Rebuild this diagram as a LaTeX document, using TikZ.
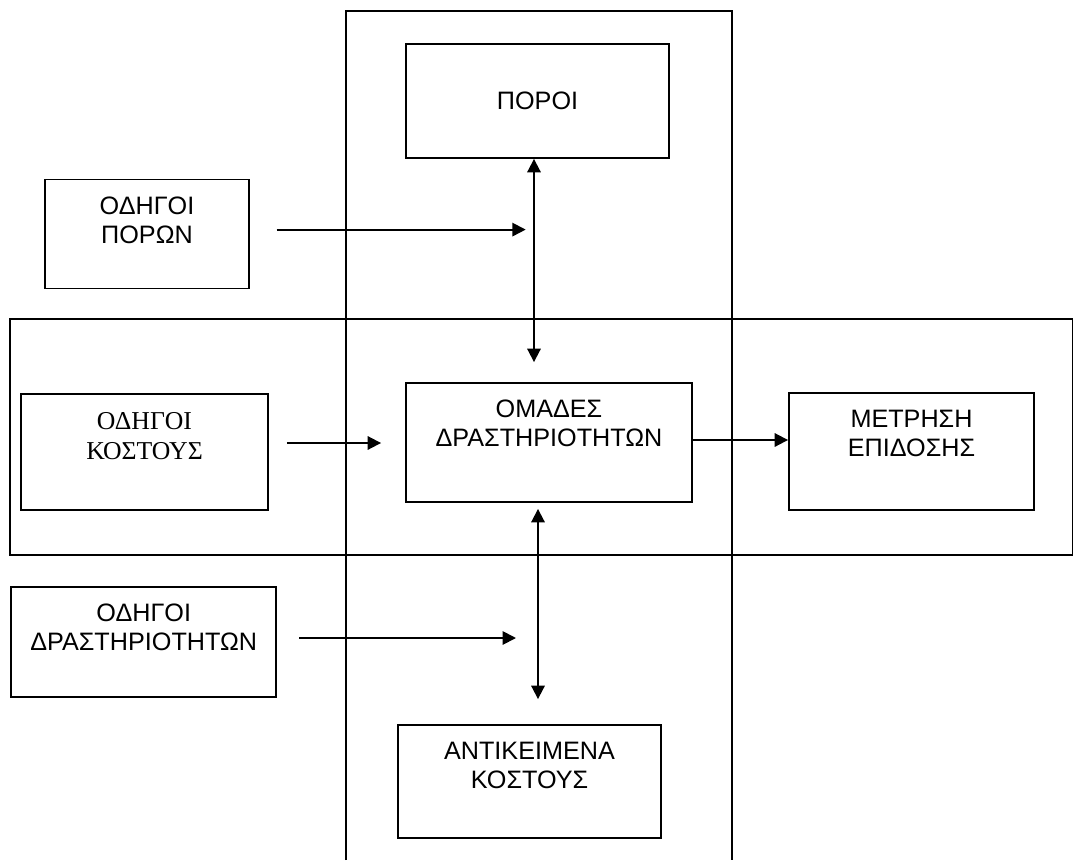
\documentclass[tikz,border=0pt]{standalone}
\usepackage{fontspec}
\setmainfont{Liberation Sans}
\newfontfamily\serifgr{Liberation Serif}
\usepackage{tikz}
\usetikzlibrary{positioning,arrows.meta}
\def\TextDrop{13.5pt}

\begin{document}
\begin{tikzpicture}[x=0.75pt,y=-0.75pt,
    box/.style 2 args={draw,line width=1.4pt,minimum width=#1*0.75pt,minimum height=#2*0.75pt,inner sep=0pt},
    lbl/.style={align=center,inner sep=0pt,font=\fontsize{18.9pt}{21.6pt}\selectfont},
    band/.style={line width=1.3pt},
    arr/.style={line width=1.4pt,-{Triangle[length=10pt,width=10pt]}},
    dblarr/.style={line width=1.4pt,{Triangle[length=10pt,width=10pt]}-{Triangle[length=10pt,width=10pt]}}]
    \useasboundingbox (0,0) rectangle (1074,860);
    % the two bands
    \draw[band] (346,860) -- (346,10.7) -- (732,10.7) -- (732,860);
    \draw[band] (10,319) rectangle (1072.5,555);
    % boxes
    \node[box={263}{114},font=\fontsize{18.9pt}{21.6pt}\selectfont] (poroi) at (537.5,101) {ΠΟΡΟΙ};
    \node[box={204}{109}] (odporon) at (147,234) {};
    \node[box={247}{116}] (odkostous) at (144.5,452) {};
    \node[box={286}{119}] (omades) at (549,442.5) {};
    \node[box={245}{117}] (metrisi) at (911.5,451.5) {};
    \node[box={265}{110}] (oddrast) at (143.7,642) {};
    \node[box={263}{113}] (antik) at (529.5,781.5) {};
    \node[lbl,below=\TextDrop of odporon.north] (odporonT) {ΟΔΗΓΟΙ\\ΠΟΡΩΝ};
    \node[lbl,below=14.25pt of odkostous.north,font=\serifgr\fontsize{19.3pt}{22.5pt}\selectfont] (odkostousT) {ΟΔΗΓΟΙ\\ΚΟΣΤΟΥΣ};
    \node[lbl,below=\TextDrop of omades.north] (omadesT) {ΟΜΑΔΕΣ\\ΔΡΑΣΤΗΡΙΟΤΗΤΩΝ};
    \node[lbl,below=\TextDrop of metrisi.north] (metrisiT) {ΜΕΤΡΗΣΗ\\ΕΠΙΔΟΣΗΣ};
    \node[lbl,below=\TextDrop of oddrast.north] (oddrastT) {ΟΔΗΓΟΙ\\ΔΡΑΣΤΗΡΙΟΤΗΤΩΝ};
    \node[lbl,below=\TextDrop of antik.north] (antikT) {ΑΝΤΙΚΕΙΜΕΝΑ\\ΚΟΣΤΟΥΣ};
    % connectors
    \coordinate (tx) at (534,0);
    \coordinate (bx) at (538,0);
    \coordinate (porIn) at (525.7,229.6);
    \coordinate (drIn) at (516,638);
    \coordinate (ky) at (0,443);
    \coordinate (my) at (0,440);
    \draw[dblarr,shorten >=15pt] (poroi.south -| tx) -- (omades.north -| tx);
    \draw[dblarr,shorten <=4.5pt,shorten >=18.75pt] (omades.south -| bx) -- (antik.north -| bx);
    \draw[arr,shorten <=20pt] (odporon.east |- porIn) -- (porIn);
    \draw[arr,shorten <=13.5pt,shorten >=18pt] (odkostous.east |- ky) -- (omades.west |- ky);
    \draw[arr] (omades.east |- my) -- (metrisi.west |- my);
    \draw[arr,shorten <=16.5pt] (oddrast.east |- drIn) -- (drIn);
\end{tikzpicture}
\end{document}
